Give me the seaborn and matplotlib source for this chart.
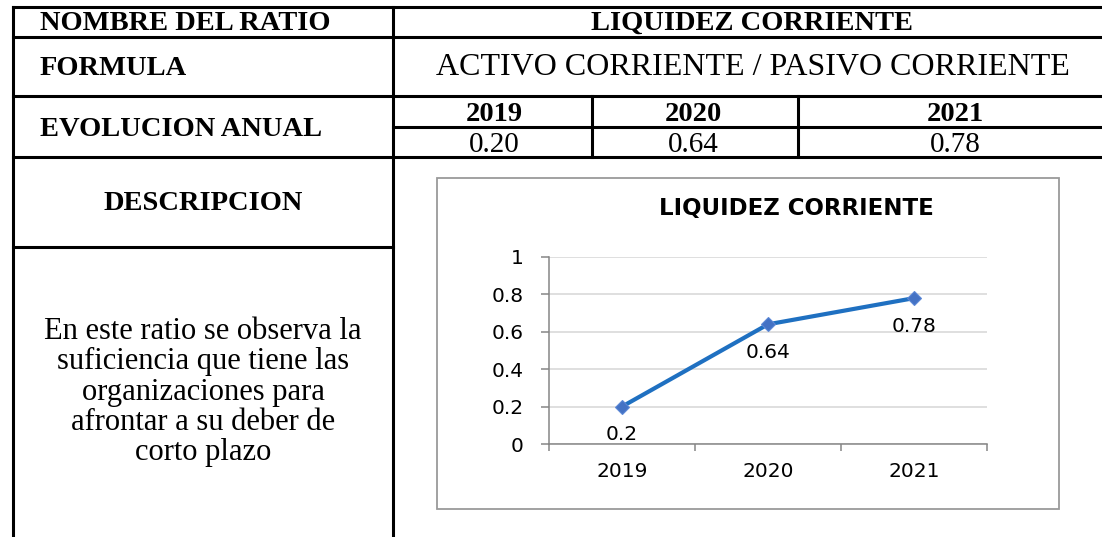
import matplotlib
matplotlib.use("Agg")
import matplotlib.pyplot as plt
import matplotlib.patches as mpatches
from matplotlib.ticker import FixedLocator
import seaborn as sns
import pandas as pd

# --- data ---
ratio_name = "LIQUIDEZ CORRIENTE"
formula = "ACTIVO CORRIENTE / PASIVO CORRIENTE"
years = ["2019", "2020", "2021"]
values = [0.20, 0.64, 0.78]
value_labels = ["0.2", "0.64", "0.78"]
y_ticks = [0, 0.2, 0.4, 0.6, 0.8, 1]
y_tick_labels = ["0", "0.2", "0.4", "0.6", "0.8", "1"]
description = ["En este ratio se observa la",
               "suficiencia que tiene las",
               "organizaciones para",
               "afrontar a su deber de",
               "corto plazo"]

sns.set_theme(style="white")
plt.rcParams["font.family"] = ["DejaVu Sans"]
plt.rcParams["text.color"] = "black"
plt.rcParams["xtick.labelcolor"] = "black"
plt.rcParams["ytick.labelcolor"] = "black"

W, H = 1102, 537
fig = plt.figure(figsize=(W / 100, H / 100), dpi=100)

# background axes in pixel coordinates for the table
bg = fig.add_axes([0, 0, 1, 1])
bg.set_xlim(0, W)
bg.set_ylim(H, 0)
bg.axis("off")

serif = "Liberation Serif"
lw_tab = 2.2

def hline(y, x0, x1):
    bg.plot([x0, x1], [y, y], color="black", lw=lw_tab, solid_capstyle="projecting")

def vline(x, y0, y1):
    bg.plot([x, x], [y0, y1], color="black", lw=lw_tab, solid_capstyle="projecting")

# table grid
hline(7, 13, W)
hline(37, 13, W)
hline(96, 13, W)
hline(127, 393, W)
hline(157, 13, W)
hline(247, 13, 393)
vline(13, 7, H)
vline(393, 7, H)
vline(592, 96, 157)
vline(798, 96, 157)

# table texts
bold = dict(family=serif, fontweight="bold", fontsize=20.5, va="baseline")
bg.text(40, 30, "NOMBRE DEL RATIO", **bold)
bg.text(752, 30, ratio_name, ha="center", **bold)
bg.text(40, 75, "FORMULA", **bold)
bg.text(753, 75, formula, family=serif, fontsize=23, va="baseline", ha="center")
bg.text(40, 136, "EVOLUCION ANUAL", **bold)
col_centers = [494, 693, 955]
for cx, yr, v in zip(col_centers, years, values):
    bg.text(cx, 121, yr, ha="center", **bold)
    bg.text(cx, 152, f"{v:.2f}", family=serif, fontsize=21, va="baseline", ha="center")
bg.text(203, 210, "DESCRIPCION", ha="center", **bold)
for i, line in enumerate(description):
    bg.text(203, 339 + i * 30.3, line, family=serif, fontsize=22, va="baseline", ha="center")

# chart frame and title
bg.add_patch(mpatches.Rectangle((437, 178), 622, 331, facecolor="white",
                                edgecolor="#9a9a9a", lw=1.3))
bg.text(796, 209, ratio_name, ha="center", va="center", fontsize=16.5,
        fontweight="bold", color="black")

# line chart
ax = fig.add_axes([549 / W, (H - 444) / H, 438 / W, 187 / H])
df = pd.DataFrame({"pos": range(len(years)), "year": years, "value": values})
sns.lineplot(data=df, x="pos", y="value", ax=ax, color="#1f70c1", lw=3,
             marker="D", markersize=7.5, markerfacecolor="#4472c4",
             markeredgecolor="#5b87d6", markeredgewidth=0.8, sort=False)

for p, v, lab in zip(df["pos"], values, value_labels):
    ax.annotate(lab, (p, v), xytext=(0, -28), textcoords="offset pixels",
                ha="center", va="center", fontsize=14.5, color="black")

ax.set_xlim(-0.5, len(years) - 0.5)
ax.set_ylim(0, 1)
ax.set_xticks(df["pos"])
ax.set_xticklabels(years)
ax.set_yticks(y_ticks)
ax.set_yticklabels(y_tick_labels)
ax.xaxis.set_minor_locator(FixedLocator([-0.5, 0.5, 1.5, 2.5]))
ax.tick_params(axis="x", which="major", length=0, pad=13, labelsize=14.5, bottom=True)
ax.tick_params(axis="x", which="minor", length=5, width=1.1, color="#868686",
               direction="out", bottom=True)
ax.tick_params(axis="y", length=5.5, width=1.1, color="#868686", direction="out",
               pad=13, labelsize=14.5, left=True)
ax.grid(axis="y", color="#d9d9d9", lw=1.2)
ax.grid(axis="x", visible=False)
ax.set_axisbelow(True)
for s in ["top", "right"]:
    ax.spines[s].set_visible(False)
for s in ["left", "bottom"]:
    ax.spines[s].set_color("#868686")
    ax.spines[s].set_linewidth(1.1)
ax.set_xlabel("")
ax.set_ylabel("")
ax.set_facecolor("white")

fig.savefig("out.png", dpi=100)
